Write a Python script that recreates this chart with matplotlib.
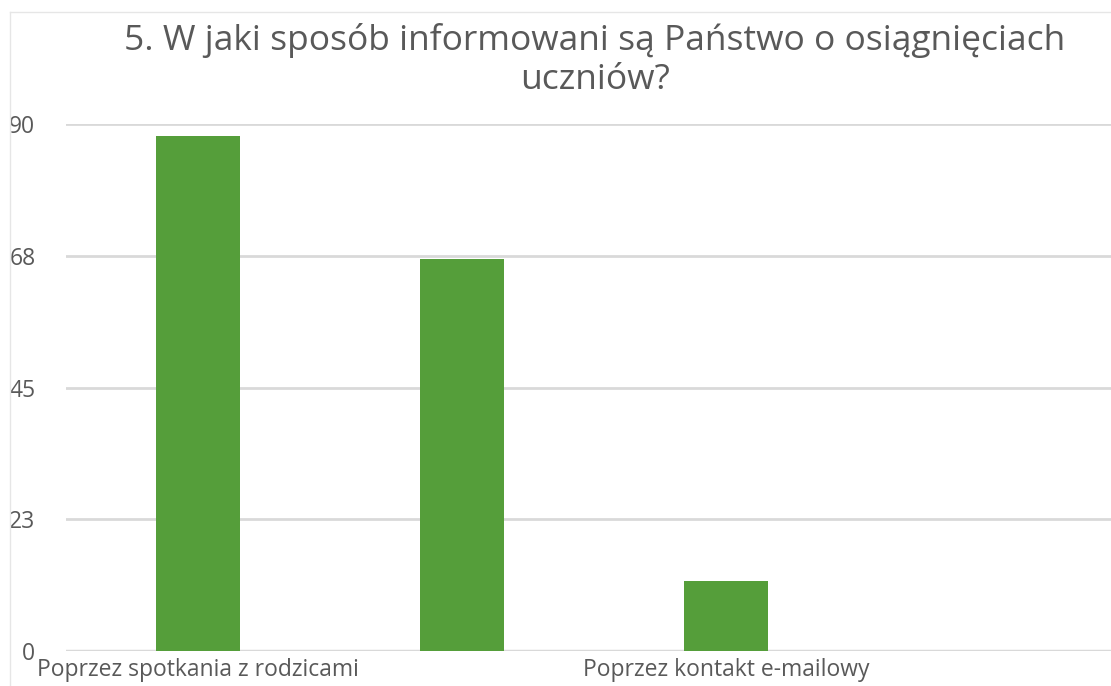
import matplotlib
matplotlib.use('Agg')
import matplotlib.pyplot as plt
import numpy as np

# ==== dane ====
categories = ["Poprzez spotkania z rodzicami", "", "Poprzez kontakt e-mailowy", ""]
values = [88, 67, 12, 0]
yticks = [0, 22.5, 45, 67.5, 90]
ytick_labels = ["0", "23", "45", "68", "90"]

GREEN = "#559E3A"
TXT = "#595959"
GRID = "#D9D9D9"

plt.rcParams['font.family'] = ['Open Sans', 'DejaVu Sans']

fig = plt.figure(figsize=(11.11, 6.86), dpi=100)
ax = fig.add_axes([66 / 1111, 1 - 651 / 686, (1122 - 66) / 1111, (651 - 124) / 686])

x = np.arange(len(categories))
ax.bar(x, values, width=0.315, color=GREEN, zorder=3)

ax.set_xlim(-0.5, len(categories) - 0.5)
ax.set_ylim(0, 90)
ax.set_yticks(yticks)
ax.set_yticklabels(ytick_labels)
ax.set_xticks(x)
ax.set_xticklabels(categories)
ax.grid(axis='y', color=GRID, linewidth=2, zorder=0)
ax.tick_params(length=0, labelsize=16.5, colors=TXT)
ax.tick_params(axis='y', pad=22)
ax.tick_params(axis='x', pad=5)
for s in ax.spines.values():
    s.set_visible(False)
ax.axhline(0, color=GRID, linewidth=2.5, zorder=2)

fig.text(595 / 1111, 1 - 60 / 686, "5. W jaki sposób informowani są Państwo o osiągnięciach\nuczniów?",
         ha='center', va='center', fontsize=25.5, color=TXT, linespacing=1.2)

# ramka wykresu
fig.add_artist(plt.Line2D([10 / 1111, 10 / 1111], [0, 1 - 12 / 686], color="#E6E6E6", linewidth=1))
fig.add_artist(plt.Line2D([10 / 1111, 1], [1 - 12 / 686, 1 - 12 / 686], color="#E6E6E6", linewidth=1))

plt.savefig("out.png", dpi=100)
plt.close()
